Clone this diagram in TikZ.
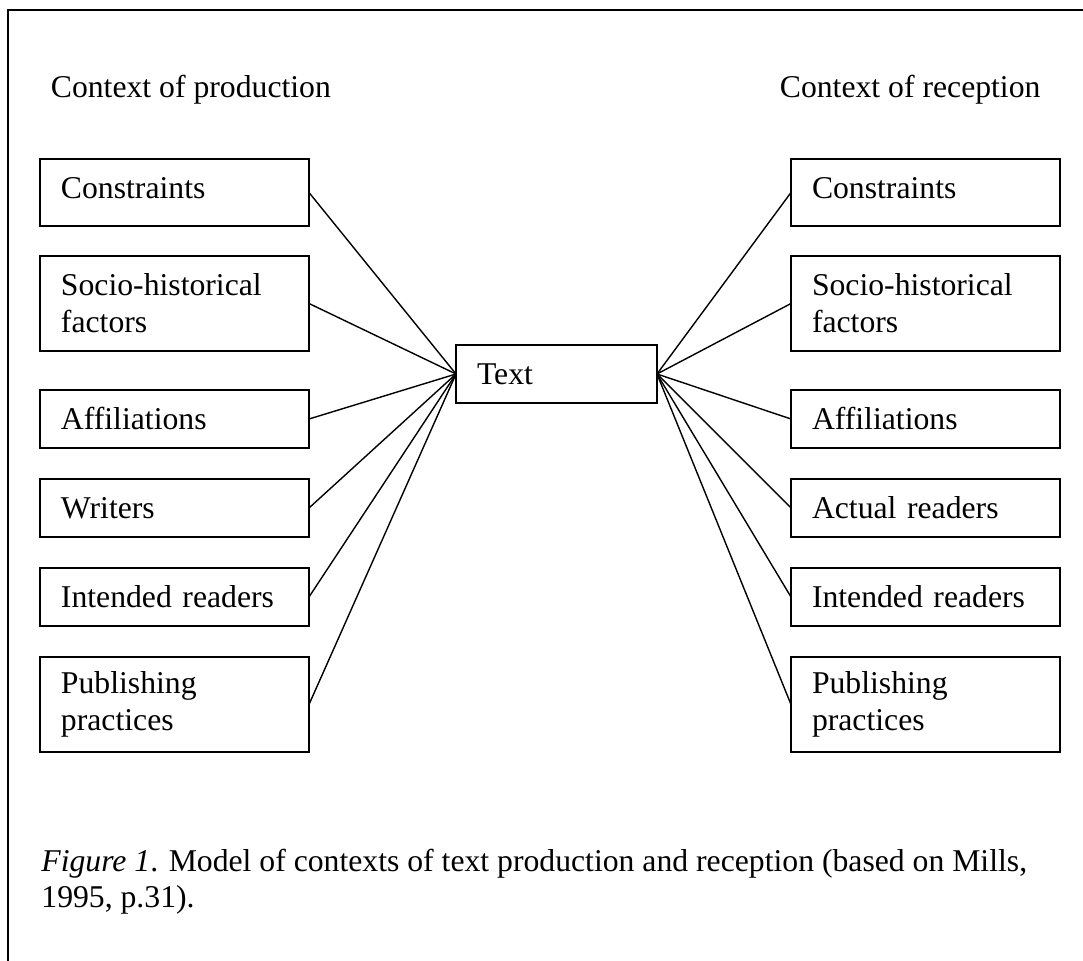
\documentclass[tikz,border=0pt]{standalone}
\usepackage{fontspec}
\setmainfont{Liberation Serif}
\usetikzlibrary{positioning}
\newcommand{\figfont}{\fontsize{15.85}{18.35}\selectfont}
\tikzset{
  ctxbox/.style={draw, line width=0.7pt, text width=113.5pt, inner xsep=10.5pt, inner ysep=0pt,
                 outer sep=0pt, align=left, font=\figfont, minimum height=29pt},
  twoline/.style={minimum height=47.5pt},
  topbox/.style={minimum height=33.5pt, text depth=4.3pt}, % text sits high in the first box
  textbox/.style={ctxbox, text width=79.5pt},
  heading/.style={anchor=base west, inner sep=0pt, font=\figfont},
  link/.style={line width=0.7pt},
}

\begin{document}
\begin{tikzpicture}[x=0.5pt, y=-0.5pt]
  \useasboundingbox (0,0) rectangle (1083,961);
  \draw[line width=0.7pt] (1083,10) -- (8,10) -- (8,961);

  \node[heading] (prodhead) at (50.5,98) {Context of production};
  \node[heading] (recphead) at (779.5,98) {Context of reception};

  % context of production
  \node[ctxbox, topbox, anchor=north west] (lcons) at (40,159) {Constraints};
  \node[ctxbox, twoline] (lsocio) [below=15pt of lcons] {Socio-historical\\factors};
  \node[ctxbox] (laffil) [below=19.5pt of lsocio] {Affiliations};
  \node[ctxbox] (lwriters) [below=15.5pt of laffil] {Writers};
  \node[ctxbox] (lintend) [below=15.5pt of lwriters] {Intended readers};
  \node[ctxbox, twoline] (lpublish) [below=15.5pt of lintend] {Publishing\\practices};

  % context of reception
  \node[ctxbox, topbox] (rcons) [right=241pt of lcons] {Constraints};
  \node[ctxbox, twoline] (rsocio) [below=15pt of rcons] {Socio-historical\\factors};
  \node[ctxbox] (raffil) [below=19.5pt of rsocio] {Affiliations};
  \node[ctxbox] (ractual) [below=15.5pt of raffil] {Actual readers};
  \node[ctxbox] (rintend) [below=15.5pt of ractual] {Intended readers};
  \node[ctxbox, twoline] (rpublish) [below=15.5pt of rintend] {Publishing\\practices};

  \node[textbox] (txt) at (556.5,374) {Text};

  \draw[link] (lcons.east) -- (txt.west);
  \draw[link] (lsocio.east) -- (txt.west);
  \draw[link] (laffil.east) -- (txt.west);
  \draw[link] (lwriters.east) -- (txt.west);
  \draw[link] (lintend.east) -- (txt.west);
  \draw[link] (lpublish.east) -- (txt.west);

  \draw[link] (txt.east) -- (rcons.west);
  \draw[link] (txt.east) -- (rsocio.west);
  \draw[link] (txt.east) -- (raffil.west);
  \draw[link] (txt.east) -- (ractual.west);
  \draw[link] (txt.east) -- (rintend.west);
  \draw[link] (txt.east) -- (rpublish.west);

  % base anchor sits on the last line
  \node[heading, align=left] (caption) at (41,908)
    {\textit{Figure 1}. Model of contexts of text production and reception (based on Mills,\\1995, p.31).};
\end{tikzpicture}
\end{document}
